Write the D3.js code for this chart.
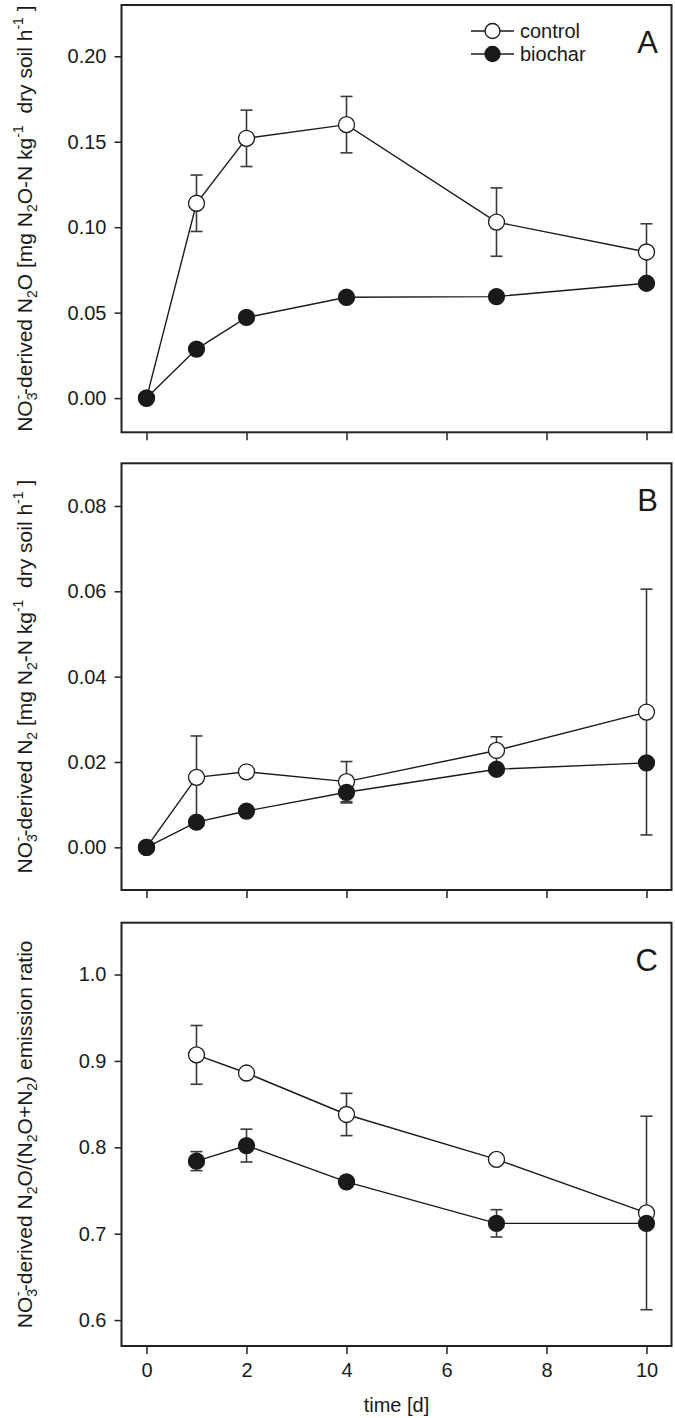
<!DOCTYPE html>
<html><head><meta charset="utf-8">
<script src="https://cdn.jsdelivr.net/npm/d3@7"></script>
<style>body{margin:0;background:#fff}svg{display:block}text{font-family:"Liberation Sans",Arial,sans-serif;fill:#1a1a1a}</style>
</head><body>
<script>
const days = [0, 1, 2, 4, 7, 10];
const daysC = [1, 2, 4, 7, 10];
const xTicks = [0, 2, 4, 6, 8, 10];

const aControl = [0, 0.114, 0.152, 0.160, 0.103, 0.0855];
const aControlErr = [0, 0.0165, 0.0165, 0.0165, 0.020, 0.0165];
const aBiochar = [0, 0.0287, 0.0472, 0.059, 0.0594, 0.0672];
const aBiocharErr = [0, 0, 0, 0, 0, 0];
const aTicks = [0, 0.05, 0.10, 0.15, 0.20];

const bControl = [0, 0.0164, 0.0177, 0.0154, 0.0227, 0.0317];
const bControlErr = [0, 0.0097, 0.001, 0.0047, 0.0032, 0.0288];
const bBiochar = [0, 0.0059, 0.0085, 0.0129, 0.0183, 0.0198];
const bBiocharErr = [0, 0.001, 0.001, 0.0025, 0.001, 0.001];
const bTicks = [0, 0.02, 0.04, 0.06, 0.08];

const cControl = [0.907, 0.886, 0.838, 0.786, 0.724];
const cControlErr = [0.034, 0.004, 0.0245, 0.004, 0.112];
const cBiochar = [0.784, 0.802, 0.760, 0.712, 0.712];
const cBiocharErr = [0.011, 0.019, 0.004, 0.0158, 0.004];
const cTicks = [0.6, 0.7, 0.8, 0.9, 1.0];

const W = 675, H = 1418;
const FONT = '"Liberation Sans",Arial,sans-serif';
const svg = d3.select("body").append("svg").attr("width", W).attr("height", H);
const x = d3.scaleLinear().domain([-0.5, 10.5]).range([121.5, 671.5]);

const panels = [
  {letter: "A", top: 5, bottom: 432.3, domain: [-0.02, 0.23], ticks: aTicks, fmt: d3.format(".2f"),
   series: [{x: days, y: aControl, e: aControlErr, fill: "#fff"}, {x: days, y: aBiochar, e: aBiocharErr, fill: "#1a1a1a"}],
   label: [["NO", 0], ["3", 1], ["-", 2], ["-derived N", 0], ["2", 1], ["O [mg N", 0], ["2", 1], ["O-N kg", 0], ["-1", 2], ["  dry soil h", 0], ["-1", 2], [" ]", 0]]},
  {letter: "B", top: 463.3, bottom: 890, domain: [-0.01, 0.09], ticks: bTicks, fmt: d3.format(".2f"),
   series: [{x: days, y: bControl, e: bControlErr, fill: "#fff"}, {x: days, y: bBiochar, e: bBiocharErr, fill: "#1a1a1a"}],
   label: [["NO", 0], ["3", 1], ["-", 2], ["-derived N", 0], ["2", 1], [" [mg N", 0], ["2", 1], ["-N kg", 0], ["-1", 2], ["  dry soil h", 0], ["-1", 2], [" ]", 0]]},
  {letter: "C", top: 922.7, bottom: 1346, domain: [0.57, 1.06], ticks: cTicks, fmt: d3.format(".1f"),
   series: [{x: daysC, y: cControl, e: cControlErr, fill: "#fff"}, {x: daysC, y: cBiochar, e: cBiocharErr, fill: "#1a1a1a"}],
   label: [["NO", 0], ["3", 1], ["-", 2], ["-derived N", 0], ["2", 1], ["O/(N", 0], ["2", 1], ["O+N", 0], ["2", 1], [") emission ratio", 0]]}
];

panels.forEach((p, pi) => {
  const y = d3.scaleLinear().domain(p.domain).range([p.bottom, p.top]);
  const g = svg.append("g");
  const ya = g.append("g").attr("transform", `translate(${x.range()[0]},0)`)
    .call(d3.axisLeft(y).tickValues(p.ticks).tickFormat(p.fmt).tickSize(7).tickPadding(8));
  ya.select(".domain").remove();
  ya.selectAll("line").attr("stroke", "#222").attr("stroke-width", 1.5);
  ya.selectAll("text").attr("font-size", 20).attr("fill", "#1a1a1a").style("font-family", FONT);
  const xa = g.append("g").attr("transform", `translate(0,${p.bottom})`)
    .call(d3.axisBottom(x).tickValues(xTicks).tickFormat(pi === 2 ? d3.format("d") : "").tickSize(8).tickPadding(9));
  xa.select(".domain").remove();
  xa.selectAll("line").attr("stroke", "#222").attr("stroke-width", 1.5);
  xa.selectAll("text").attr("font-size", 20).attr("fill", "#1a1a1a").style("font-family", FONT);
  g.append("rect").attr("x", x.range()[0]).attr("y", p.top)
    .attr("width", x.range()[1] - x.range()[0]).attr("height", p.bottom - p.top)
    .attr("fill", "none").attr("stroke", "#222").attr("stroke-width", 2);
  g.append("text").attr("x", 658).attr("y", p.top + 48).attr("text-anchor", "end")
    .attr("font-size", 31).text(p.letter);
  const cy = (p.top + p.bottom) / 2;
  const lt = g.append("text").attr("transform", `translate(32,${cy}) rotate(-90)`)
    .attr("text-anchor", "middle").attr("font-size", 21);
  p.label.forEach(([t, k], i) => {
    const ts = lt.append("tspan").text(t).style("white-space", "pre");
    ts.attr("font-size", k === 0 ? 21 : 14);
    const prevK = i > 0 ? p.label[i - 1][1] : 0;
    const lvl = k === 1 ? 5 : k === 2 ? -9 : 0;
    const prevLvl = prevK === 1 ? 5 : prevK === 2 ? -9 : 0;
    ts.attr("dy", lvl - prevLvl);
    if (k === 2 && prevK === 1) ts.attr("dx", -7);
  });
  p.series.forEach(s => {
    const pts = s.x.map((d, i) => [d, s.y[i], s.e[i]]);
    g.append("path").datum(pts)
      .attr("d", d3.line().x(d => x(d[0])).y(d => y(d[1])))
      .attr("fill", "none").attr("stroke", "#1a1a1a").attr("stroke-width", 1.4);
  });
  p.series.forEach(s => {
    const pts = s.x.map((d, i) => [d, s.y[i], s.e[i]]).filter(d => d[2] > 0.0);
    const eg = g.append("g").attr("stroke", "#3a3a3a").attr("stroke-width", 1.6);
    pts.forEach(d => {
      const cx = x(d[0]), y1 = y(d[1] + d[2]), y2 = y(d[1] - d[2]);
      eg.append("line").attr("x1", cx).attr("x2", cx).attr("y1", y1).attr("y2", y2);
      eg.append("line").attr("x1", cx - 6).attr("x2", cx + 6).attr("y1", y1).attr("y2", y1);
      eg.append("line").attr("x1", cx - 6).attr("x2", cx + 6).attr("y1", y2).attr("y2", y2);
    });
  });
  p.series.forEach(s => {
    const pts = s.x.map((d, i) => [d, s.y[i]]);
    g.append("g").selectAll("circle").data(pts).join("circle")
      .attr("cx", d => x(d[0])).attr("cy", d => y(d[1])).attr("r", 8)
      .attr("fill", s.fill).attr("stroke", "#1a1a1a").attr("stroke-width", 1.3);
  });
  if (pi === 2) {
    g.append("text").attr("x", (x.range()[0] + x.range()[1]) / 2).attr("y", 1412)
      .attr("text-anchor", "middle").attr("font-size", 20).text("time [d]");
  }
  if (pi === 0) {
    const leg = [["control", "#fff", 31], ["biochar", "#1a1a1a", 54]];
    leg.forEach(([t, f, ly]) => {
      g.append("line").attr("x1", 471).attr("x2", 514).attr("y1", ly).attr("y2", ly)
        .attr("stroke", "#1a1a1a").attr("stroke-width", 1.4);
      g.append("circle").attr("cx", 492.5).attr("cy", ly).attr("r", 7.5)
        .attr("fill", f).attr("stroke", "#1a1a1a").attr("stroke-width", 1.3);
      g.append("text").attr("x", 520).attr("y", ly + 7).attr("font-size", 20).text(t);
    });
  }
});
</script>
</body></html>
